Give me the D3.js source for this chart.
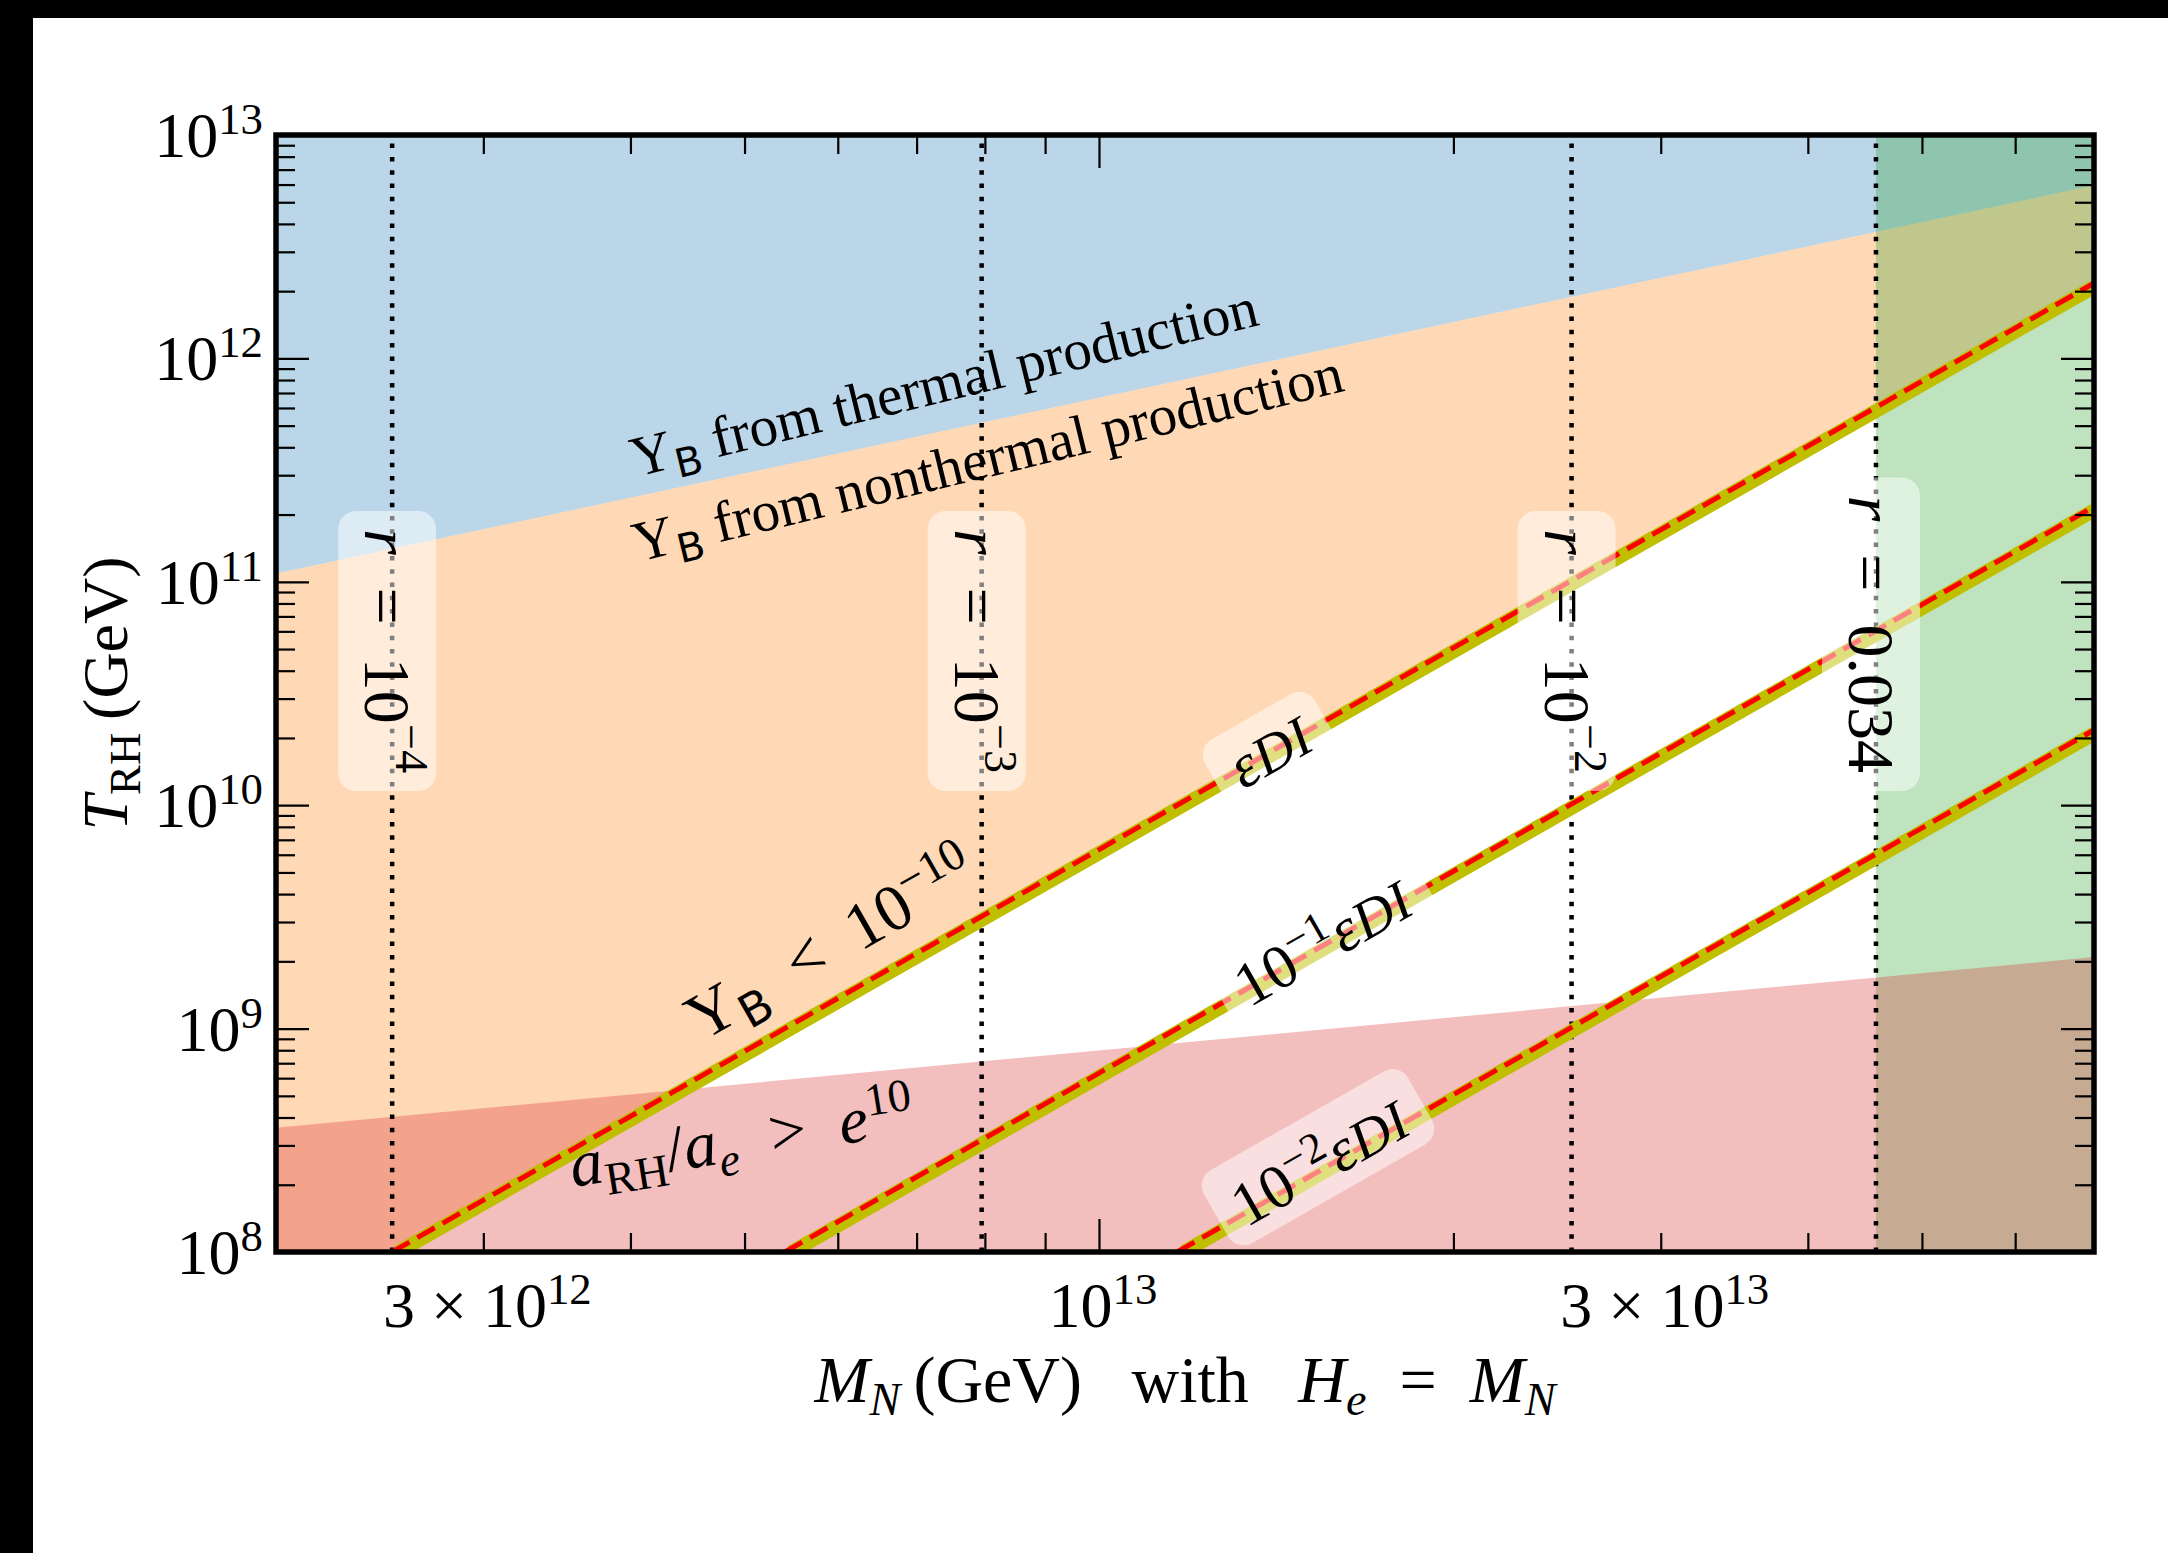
<!DOCTYPE html>
<html>
<head>
<meta charset="utf-8">
<script src="https://cdn.jsdelivr.net/npm/d3@7"></script>
<style>
  html, body { margin: 0; padding: 0; background: #fff; }
  svg { display: block; }
</style>
</head>
<body>
<svg id="chart" width="2168" height="1553"></svg>
<script>
// ---------------- data ----------------
// axis ranges
const massDomain = [2e12, 7e13];   // M_N (GeV)
const tempDomain = [1e8, 1e13];    // T_RH (GeV)

// upper edge of the nonthermal band (above it: thermal production)
const thermalEdgeM = [2e12, 7e13];
const thermalEdgeT = [1.09e11, 5.95e12];

// a_RH / a_e = e^10 boundary (below it the red band)
const efoldEdgeM = [2e12, 7e13];
const efoldEdgeT = [3.6e8, 2.09e9];

// tensor-to-scalar ratio lines
const rNames = ["−4", "−3", "−2", "0.034"];
const rMass  = [2.51e12, 7.95e12, 2.52e13, 4.57e13];

// Y_B = 1e-10 lines for eps_DI, 0.1 eps_DI, 0.01 eps_DI (analytic, dashed)
const epsStartM = [2.51e12, 5.41e12, 1.165e13];   // where T_RH = 1e8
const epsEndT   = [2.17e12, 2.17e11, 2.17e10];    // at M_N = 7e13
// numerical solution (thick band)
const numStartM = [2.54e12, 5.48e12, 1.18e13];
const numEndT   = [2.09e12, 2.09e11, 2.09e10];
const epsPrefix = ["", "−1", "−2"];

// tick labels
const yMajor = [1e8, 1e9, 1e10, 1e11, 1e12, 1e13];
const yMajorExp = ["8", "9", "10", "11", "12", "13"];
const xLabelled = [3e12, 1e13, 3e13];
const xLabelMant = ["3 × ", "", "3 × "];
const xLabelExp = ["12", "13", "13"];

// ---------------- layout ----------------
const W = 2168, H = 1553;
const P = { left: 276, right: 2094, top: 135, bottom: 1252 };
const SERIF = "'Liberation Serif', 'Times New Roman', serif";
const SANS = "'DejaVu Sans', sans-serif";
const col = { blue: "#1f77b4", orange: "#ff7f0e", green: "#2ca02c", red: "#d62728" };

const svg = d3.select("#chart");
svg.append("rect").attr("width", W).attr("height", H).attr("fill", "#fff");
svg.append("rect").attr("width", W).attr("height", 18).attr("fill", "#000");
svg.append("rect").attr("width", 33).attr("height", H).attr("fill", "#000");

const x = d3.scaleLog().domain(massDomain).range([P.left, P.right]);
const y = d3.scaleLog().domain(tempDomain).range([P.bottom, P.top]);

svg.append("clipPath").attr("id", "plotclip")
  .append("rect").attr("x", P.left).attr("y", P.top)
  .attr("width", P.right - P.left).attr("height", P.bottom - P.top);

const g = svg.append("g").attr("clip-path", "url(#plotclip)");
const line = d3.line().x(d => x(d[0])).y(d => y(d[1]));
const polygon = pts => line(pts) + "Z";

const thermal = thermalEdgeM.map((m, i) => [m, thermalEdgeT[i]]);
const efold = efoldEdgeM.map((m, i) => [m, efoldEdgeT[i]]);
const [Mlo, Mhi] = massDomain, [Tlo, Thi] = tempDomain;

// thermal production region
g.append("path")
  .attr("d", polygon([[Mlo, Thi], ...thermal, [Mhi, Thi]]))
  .attr("fill", col.blue).attr("fill-opacity", 0.3);

// nonthermal production region (above eps_DI line, below thermal edge)
g.append("path")
  .attr("d", polygon([[Mlo, Tlo], [epsStartM[0], Tlo], [Mhi, epsEndT[0]],
                      ...thermal.slice().reverse()]))
  .attr("fill", col.orange).attr("fill-opacity", 0.3);

// r > 0.034 excluded
g.append("path")
  .attr("d", polygon([[rMass[3], Tlo], [rMass[3], Thi], [Mhi, Thi], [Mhi, Tlo]]))
  .attr("fill", col.green).attr("fill-opacity", 0.3);

// a_RH/a_e > e^10
g.append("path")
  .attr("d", polygon([[Mlo, Tlo], ...efold, [Mhi, Tlo]]))
  .attr("fill", col.red).attr("fill-opacity", 0.3);

// vertical r lines
rMass.forEach(m => {
  g.append("path").attr("d", line([[m, Tlo], [m, Thi]]))
    .attr("stroke", "#000").attr("stroke-width", 4.5)
    .attr("stroke-dasharray", "4.5 8.8").attr("fill", "none");
});

// Y_B lines
numStartM.forEach((m, i) => {
  g.append("path").attr("d", line([[m, Tlo], [Mhi, numEndT[i]]]))
    .attr("stroke", "#bfbf00").attr("stroke-width", 14).attr("fill", "none");
});
epsStartM.forEach((m, i) => {
  g.append("path").attr("d", line([[m, Tlo], [Mhi, epsEndT[i]]]))
    .attr("stroke", "#ff0000").attr("stroke-width", 5)
    .attr("stroke-dasharray", "20 9").attr("fill", "none");
});

// ---------- rich text helper (sub/superscripts) ----------
function rich(sel, parts, size) {
  let shift = 0;
  parts.forEach(p => {
    const o = typeof p === "string" ? { t: p } : p;
    const small = o.sup || o.sub;
    const fs = small ? size * (o.scale || 0.7) : size * (o.scale || 1);
    const target = o.sup ? -(o.raise || 0.36) * size : (o.sub ? 0.2 * size : 0);
    const ts = sel.append("tspan").text(o.t)
      .attr("font-size", fs).attr("dy", target - shift);
    if (o.dx) ts.attr("dx", o.dx);
    if (o.it) ts.attr("font-style", "italic");
    if (o.sans) ts.attr("font-family", SANS);
    shift = target;
  });
  return sel;
}
function label(parent, px, py, angle, parts, size, anchor) {
  const grp = parent.append("g").attr("transform", `translate(${px},${py}) rotate(${angle})`);
  const t = grp.append("text").attr("font-family", SERIF).attr("fill", "#000")
    .attr("text-anchor", anchor || "start");
  rich(t, parts, size);
  return { grp, t };
}

const ann = svg.append("g").attr("clip-path", "url(#plotclip)");

// region labels
label(ann, 636, 477, -13.7, ["Y", { t: "B", sub: true, sans: true }, "\u00a0from thermal production"], 57);
label(ann, 638, 562, -13.6, ["Y", { t: "B", sub: true, sans: true }, "\u00a0from nonthermal production"], 57);
label(ann, 702, 1042, -29.7, ["Y", { t: "B", sub: true, sans: true }, "\u2002<\u200210", { t: "−10", sup: true }], 66);
label(ann, 573, 1187, -9,
  [{ t: "a", it: true }, { t: "RH", sub: true }, "/", { t: "a", it: true }, { t: "e", sub: true, it: true },
   "\u2002>\u2002", { t: "e", it: true }, { t: "10", sup: true }], 66);

// eps_DI labels with translucent boxes
const epsLabelPos = [[1270, 752], [1323, 943], [1320, 1163]];
epsPrefix.forEach((pre, i) => {
  const parts = pre ? ["10", { t: pre, sup: true }] : [];
  parts.push({ t: "ε", it: true }, { t: "DI", it: true, scale: 0.9, dx: 1 });
  const { grp, t } = label(ann, epsLabelPos[i][0], epsLabelPos[i][1], -29.7, parts, 62, "middle");
  t.attr("y", 0.32 * 62);
  const bb = t.node().getBBox();
  const hgt = pre ? 84 : 80;
  grp.insert("rect", "text")
    .attr("x", bb.x - 20).attr("width", bb.width + 40)
    .attr("y", pre ? -hgt / 2 - 6 : -hgt / 2).attr("height", hgt)
    .attr("rx", 18).attr("fill", "#fff").attr("fill-opacity", 0.5);
});

// r labels (vertical)
rMass.forEach((m, i) => {
  const parts = [{ t: "r", it: true }, "\u2002=\u2002"];
  if (i < 3) parts.push("10", { t: rNames[i], sup: true, raise: 0.46 });
  else parts.push(rNames[i]);
  const { grp, t } = label(ann, x(m) - 27, 773, 90, parts, 66, "end");
  const bb = t.node().getBBox();
  grp.insert("rect", "text")
    .attr("x", bb.x - 18).attr("width", bb.width + 36)
    .attr("y", -71).attr("height", 98)
    .attr("rx", 18).attr("fill", "#fff").attr("fill-opacity", 0.5);
});

// ---------- axes ----------
const xTicks = x.ticks();
const yTicks = y.ticks();
const isMajor = v => Math.abs(Math.log10(v) - Math.round(Math.log10(v))) < 1e-9;
const xMinor = xTicks.filter(v => !isMajor(v)), xMaj = xTicks.filter(isMajor);
const yMinor = yTicks.filter(v => !isMajor(v)), yMaj = yTicks.filter(isMajor);

function drawAxis(axisFn, scale, vals, size, transform) {
  const a = svg.append("g").attr("transform", transform)
    .call(axisFn(scale).tickValues(vals).tickSize(-size).tickSizeOuter(0).tickFormat(() => ""));
  a.select(".domain").remove();
  a.selectAll("line").attr("stroke", "#000").attr("stroke-width", 2.2);
}
[[xMinor, 19], [xMaj, 33]].forEach(([v, s]) => {
  drawAxis(d3.axisBottom, x, v, s, `translate(0,${P.bottom})`);
  drawAxis(d3.axisTop, x, v, s, `translate(0,${P.top})`);
});
[[yMinor, 19], [yMaj, 33]].forEach(([v, s]) => {
  drawAxis(d3.axisLeft, y, v, s, `translate(${P.left},0)`);
  drawAxis(d3.axisRight, y, v, s, `translate(${P.right},0)`);
});

// frame
svg.append("rect").attr("x", P.left).attr("y", P.top)
  .attr("width", P.right - P.left).attr("height", P.bottom - P.top)
  .attr("fill", "none").attr("stroke", "#000").attr("stroke-width", 5.5);

// tick labels
yMajor.forEach((v, i) => {
  const t = svg.append("text").attr("x", 263).attr("y", y(v) + 22)
    .attr("text-anchor", "end").attr("font-family", SERIF);
  rich(t, ["10", { t: yMajorExp[i], sup: true }], 64);
});
xLabelled.forEach((v, i) => {
  const t = svg.append("text").attr("x", x(v) + 4).attr("y", 1327)
    .attr("text-anchor", "middle").attr("font-family", SERIF);
  rich(t, [xLabelMant[i] + "10", { t: xLabelExp[i], sup: true }], 64);
});

// axis titles
{
  const t = svg.append("text").attr("x", (P.left + P.right) / 2).attr("y", 1402)
    .attr("text-anchor", "middle").attr("font-family", SERIF);
  rich(t, [{ t: "M", it: true }, { t: "N", sub: true, it: true }, "\u2009(GeV)\u00a0\u00a0\u00a0with\u00a0\u00a0\u00a0",
           { t: "H", it: true }, { t: "e", sub: true, it: true }, "\u2002=\u2002", { t: "M", it: true },
           { t: "N", sub: true, it: true }], 66);
}
{
  const grp = svg.append("g").attr("transform", `translate(127,${(P.top + P.bottom) / 2}) rotate(-90)`);
  const t = grp.append("text").attr("text-anchor", "middle").attr("font-family", SERIF);
  rich(t, [{ t: "T", it: true }, { t: "RH", sub: true }, "\u2009(GeV)"], 64);
}
</script>
</body>
</html>
